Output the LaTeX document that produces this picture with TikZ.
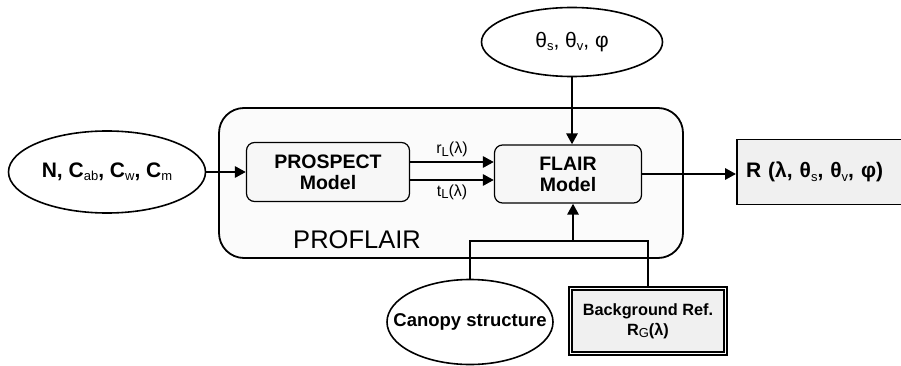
\documentclass[tikz,border=0pt]{standalone}
\usepackage{fontspec}
\setmainfont{Liberation Sans}
\usetikzlibrary{arrows.meta}
\usetikzlibrary{shapes}

\newcommand{\lowidx}[1]{\raisebox{-0.3ex}{\mdseries\fontsize{13}{13}\selectfont #1}}

\begin{document}
\begin{tikzpicture}[x = 1pt, y = -1pt, >={Triangle[length=11pt, width=11pt]}]
	\tikzstyle{ParamStyle} = [shape = ellipse, draw, line width = 1.6pt, inner sep = 0pt, font = \bfseries\fontsize{21}{23}\selectfont]
	\tikzstyle{ModelStyle} = [shape = rectangle, rounded corners = 8pt, draw, line width = 1.2pt, fill = gray!6, align = center, font = \bfseries\fontsize{19.5}{21}\selectfont]
	\tikzstyle{DataStyle} = [shape = rectangle, draw, line width = 1.8pt, fill = gray!12, align = center]
	\tikzstyle{LinkStyle} = [line width = 2.8pt]
	\useasboundingbox (0,0) rectangle (901,366);
	% PROFLAIR frame
	\node[draw, rounded corners = 25pt, line width = 1.8pt, fill = gray!3, minimum width = 464pt, minimum height = 150pt] (proflair) at (451,183) {};
	\node[font = \fontsize{25.5}{27}\selectfont] (proflairlabel) at (357,240) {PROFLAIR};
	% inputs
	\node[ParamStyle, minimum width = 197pt, minimum height = 82pt] (leaf) at (107,172) {N, C\lowidx{ab}, C\lowidx{w}, C\lowidx{m}};
	\node[ParamStyle, font = \fontsize{21}{23}\selectfont, minimum width = 181pt, minimum height = 69pt] (angles) at (572,42) {θ\lowidx{s}, θ\lowidx{v}, φ};
	\node[ParamStyle, minimum width = 166pt, minimum height = 85pt, label = {[font = \bfseries\fontsize{18.5}{20}\selectfont]center:Canopy structure}] (canopy) at (470,322) {};
	\node[DataStyle, double, double distance = 1.2pt, minimum width = 155pt, minimum height = 65pt, font = \bfseries\fontsize{16.3}{20}\selectfont] (backg) at (648,321) {Background Ref.\\R\lowidx{G}(λ)};
	% models
	\node[ModelStyle, minimum width = 163pt, minimum height = 59pt] (prospect) at (328,172) {PROSPECT\\Model};
	\node[ModelStyle, minimum width = 147pt, minimum height = 58pt] (flair) at (568,174) {FLAIR\\Model};
	% output
	\node[DataStyle, minimum width = 168pt, minimum height = 65pt, text width = 150pt, align = left, font = \bfseries\fontsize{21}{23}\selectfont] (refl) at (821,172) {R (λ, θ\lowidx{s}, θ\lowidx{v}, φ)};
	% links
	\coordinate (rtop) at (prospect.east |- 0,162);
	\coordinate (tbot) at (prospect.east |- 0,180);
	\coordinate (join) at (573,241);
	\draw[LinkStyle, ->] (leaf) -- (prospect);
	\draw[LinkStyle, ->] (rtop) -- (rtop -| flair.west) node[midway, above, font = \fontsize{16}{18}\selectfont] {r\lowidx{L}(λ)};
	\draw[LinkStyle, ->] (tbot) -- (tbot -| flair.west) node[midway, below, font = \fontsize{16}{18}\selectfont] {t\lowidx{L}(λ)};
	\draw[LinkStyle, ->] (angles) -- (angles |- flair.north);
	\draw[LinkStyle, ->] (flair.east) -- (flair.east -| refl.west);
	\draw[LinkStyle] (canopy.north) |- (join) -| (backg.north);
	\draw[LinkStyle, ->] (join) -- (join |- flair.south);
\end{tikzpicture}
\end{document}
